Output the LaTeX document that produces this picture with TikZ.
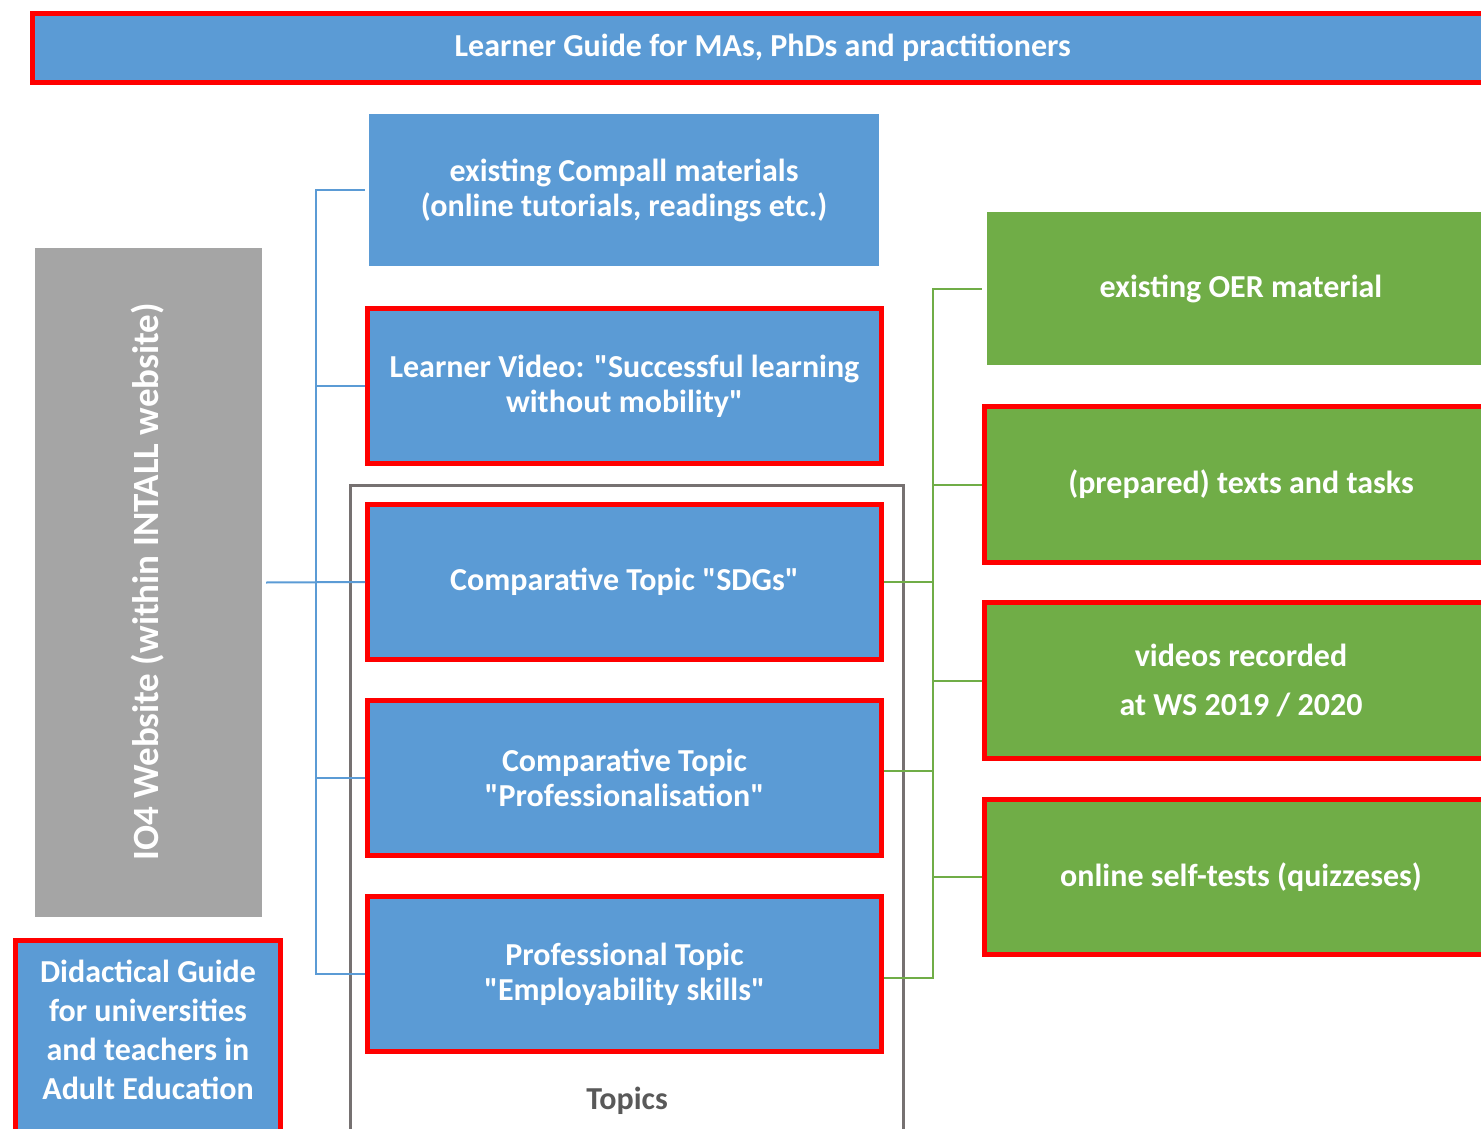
\documentclass[tikz,border=0pt]{standalone}
\usepackage{fontspec}
\setmainfont{Carlito}[Ligatures={TeXOff}]
\definecolor{oblue}{HTML}{5B9BD5}
\definecolor{ogreen}{HTML}{70AD47}
\definecolor{ogray}{HTML}{A5A5A5}
\definecolor{ored}{HTML}{FF0000}
\definecolor{tgray}{HTML}{767171}
\definecolor{ttext}{HTML}{595959}
\tikzset{
  base/.style={inner sep=0pt, align=center, text=white, font=\fontsize{32}{35}\selectfont\bfseries},
  bluebox/.style={base, fill=oblue},
  greenbox/.style={base, fill=ogreen},
  redline/.style={draw=ored, line width=5pt},
  bline/.style={draw=oblue, line width=2pt},
  gline/.style={draw=ogreen, line width=2pt},
}
\begin{document}
\begin{tikzpicture}[x=1pt,y=-1pt]
\useasboundingbox (0,0) rectangle (1481,1129);
\clip (0,0) rectangle (1481,1129);
% banner
\node[bluebox, redline, minimum width=1460.5pt, minimum height=69pt] (banner) at (762.75,48) {Learner Guide for MAs, PhDs and practitioners};
% IO4 gray
\node[base, fill=ogray, minimum width=227pt, minimum height=669pt] (io4) at (148.5,582.5) {};
\node[base, rotate=90, font=\fontsize{37}{40}\selectfont\bfseries] (io4t) at (148,582) {IO4 Website (within INTALL website)};
% didactical guide
\node[bluebox, redline, minimum width=265pt, minimum height=240pt, anchor=north] (dg) at (148,938) {};
\node[base, font=\fontsize{32}{39}\selectfont\bfseries] (dgt) at (148,1030) {Didactical Guide\\for universities\\and teachers in\\Adult Education};
% topics frame
\draw[tgray, line width=3pt] (350.5,1140) -- (350.5,485.5) -- (903.5,485.5) -- (903.5,1140);
\node[base, text=ttext, font=\fontsize{32}{35}\selectfont\bfseries] (topics) at (627,1101) {Topics};
% blue boxes
\node[bluebox, minimum width=510pt, minimum height=152pt] (b1) at (624,190) {existing Compall materials\\(online tutorials, readings etc.)};
\node[bluebox, redline, minimum width=514pt, minimum height=155pt] (b2) at (624.5,386) {Learner Video: "Successful learning\\without mobility"};
\node[bluebox, redline, minimum width=514pt, minimum height=155pt] (b3) at (624.5,582) {Comparative Topic "SDGs"};
\node[bluebox, redline, minimum width=514pt, minimum height=155pt] (b4) at (624.5,778) {Comparative Topic\\"Professionalisation"};
\node[bluebox, redline, minimum width=514pt, minimum height=155pt] (b5) at (624.5,974) {Professional Topic\\"Employability skills"};
% green boxes
\node[greenbox, minimum width=508pt, minimum height=153pt] (g1) at (1241,288.5) {existing OER material};
\node[greenbox, redline, minimum width=513pt, minimum height=156pt] (g2) at (1241,484.5) {(prepared) texts and tasks};
\node[greenbox, redline, minimum width=513pt, minimum height=156pt] (g3) at (1241,680.5) {videos recorded\\[14pt]at WS 2019 / 2020};
\node[greenbox, redline, minimum width=513pt, minimum height=155pt] (g4) at (1241,877) {online self-tests (quizzeses)};
% left connectors
\coordinate (lbus) at (316,0);
\draw[bline] ([xshift=4pt]io4.east) -- (b3.west);
\draw[bline] ([xshift=-4pt]b1.west) -- (b1.west -| lbus) -- (b5.west -| lbus) -- (b5.west);
\draw[bline] (b2.west -| lbus) -- (b2.west);
\draw[bline] (b4.west -| lbus) -- (b4.west);
% right connectors
\coordinate (rbus) at (933,0);
\draw[gline] ([xshift=-5pt]g1.west) -- (g1.west -| rbus) -- ([yshift=-4pt]b5.east -| rbus) -- ([yshift=-4pt]b5.east);
\draw[gline] (g2.west -| rbus) -- (g2.west);
\draw[gline] (g3.west -| rbus) -- (g3.west);
\draw[gline] (g4.west -| rbus) -- (g4.west);
\draw[gline] (b3.east) -- (b3.east -| rbus);
\draw[gline] ([yshift=7pt]b4.east) -- ([yshift=7pt]b4.east -| rbus);
\end{tikzpicture}
\end{document}
